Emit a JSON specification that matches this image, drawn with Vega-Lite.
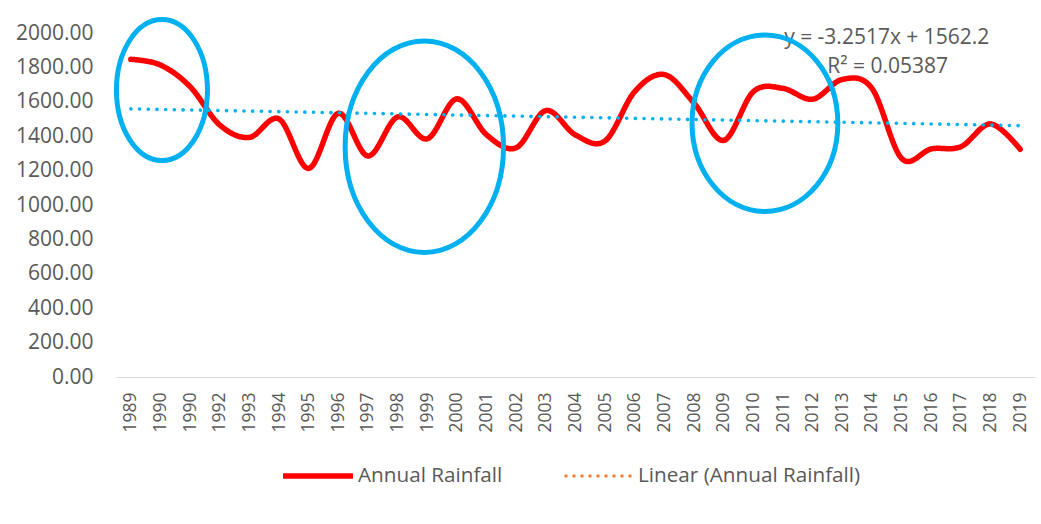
{
  "$schema": "https://vega.github.io/schema/vega-lite/v6.json",
  "width": 919,
  "height": 344,
  "autosize": {"type": "none"},
  "padding": {"left": 116, "top": 33, "right": 6, "bottom": 147},
  "background": "white",
  "config": {
    "view": {"stroke": null},
    "font": "Open Sans",
    "legend": {
      "orient": "none",
      "legendX": 164,
      "legendY": 405,
      "direction": "horizontal",
      "title": null,
      "padding": 0,
      "labelFont": "Open Sans",
      "labelFontSize": 20.7,
      "labelColor": "#595959",
      "labelLimit": 0,
      "symbolType": "stroke",
      "symbolSize": 4900,
      "labelOffset": 2,
      "columnPadding": 55
    }
  },
  "datasets": {
    "rainfall": [
      {"year": 1989, "rainfall": 1847, "series": "Annual Rainfall"},
      {"year": 1990, "rainfall": 1814, "series": "Annual Rainfall"},
      {"year": 1991, "rainfall": 1688, "series": "Annual Rainfall"},
      {"year": 1992, "rainfall": 1465, "series": "Annual Rainfall"},
      {"year": 1993, "rainfall": 1393, "series": "Annual Rainfall"},
      {"year": 1994, "rainfall": 1500, "series": "Annual Rainfall"},
      {"year": 1995, "rainfall": 1213, "series": "Annual Rainfall"},
      {"year": 1996, "rainfall": 1533, "series": "Annual Rainfall"},
      {"year": 1997, "rainfall": 1285, "series": "Annual Rainfall"},
      {"year": 1998, "rainfall": 1512, "series": "Annual Rainfall"},
      {"year": 1999, "rainfall": 1385, "series": "Annual Rainfall"},
      {"year": 2000, "rainfall": 1617, "series": "Annual Rainfall"},
      {"year": 2001, "rainfall": 1408, "series": "Annual Rainfall"},
      {"year": 2002, "rainfall": 1333, "series": "Annual Rainfall"},
      {"year": 2003, "rainfall": 1549, "series": "Annual Rainfall"},
      {"year": 2004, "rainfall": 1407, "series": "Annual Rainfall"},
      {"year": 2005, "rainfall": 1373, "series": "Annual Rainfall"},
      {"year": 2006, "rainfall": 1660, "series": "Annual Rainfall"},
      {"year": 2007, "rainfall": 1758, "series": "Annual Rainfall"},
      {"year": 2008, "rainfall": 1592, "series": "Annual Rainfall"},
      {"year": 2009, "rainfall": 1376, "series": "Annual Rainfall"},
      {"year": 2010, "rainfall": 1659, "series": "Annual Rainfall"},
      {"year": 2011, "rainfall": 1678, "series": "Annual Rainfall"},
      {"year": 2012, "rainfall": 1615, "series": "Annual Rainfall"},
      {"year": 2013, "rainfall": 1730, "series": "Annual Rainfall"},
      {"year": 2014, "rainfall": 1678, "series": "Annual Rainfall"},
      {"year": 2015, "rainfall": 1271, "series": "Annual Rainfall"},
      {"year": 2016, "rainfall": 1326, "series": "Annual Rainfall"},
      {"year": 2017, "rainfall": 1339, "series": "Annual Rainfall"},
      {"year": 2018, "rainfall": 1471, "series": "Annual Rainfall"},
      {"year": 2019, "rainfall": 1324, "series": "Annual Rainfall"}
    ],
    "trend": [
      {"year": 1989, "rainfall": 1558.95},
      {"year": 2019, "rainfall": 1461.40}
    ],
    "zones": [
      {"year": 1990.05, "rainfall": 1668, "zone": "early"},
      {"year": 1998.9, "rainfall": 1339, "zone": "late 1990s"},
      {"year": 2010.39, "rainfall": 1475, "zone": "2010s"}
    ],
    "notes": [
      {"year": 2014.5, "rainfall": 1971, "note": "y = -3.2517x + 1562.2"},
      {"year": 2014.53, "rainfall": 1802, "note": "R² = 0.05387"}
    ]
  },
  "encoding": {
    "x": {
      "field": "year",
      "type": "quantitative",
      "scale": {"domain": [1988.5, 2019.5], "nice": false, "zero": false},
      "axis": {
        "title": null,
        "values": [1989, 1990, 1991, 1992, 1993, 1994, 1995, 1996, 1997, 1998, 1999, 2000, 2001, 2002, 2003, 2004, 2005, 2006, 2007, 2008, 2009, 2010, 2011, 2012, 2013, 2014, 2015, 2016, 2017, 2018, 2019],
        "format": "d",
        "labelExpr": "datum.value === 1991 ? '1990' : datum.label",
        "labelAngle": -90,
        "labelFont": "Open Sans",
        "labelFontSize": 17.5,
        "labelColor": "#595959",
        "labelPadding": 15,
        "labelOverlap": false,
        "ticks": false,
        "grid": false,
        "domainColor": "#D9D9D9",
        "domainWidth": 1.2
      }
    },
    "y": {
      "field": "rainfall",
      "type": "quantitative",
      "scale": {"domain": [0, 2000], "nice": false},
      "axis": {
        "title": null,
        "values": [0, 200, 400, 600, 800, 1000, 1200, 1400, 1600, 1800, 2000],
        "format": ".2f",
        "labelFont": "Open Sans",
        "labelFontSize": 21,
        "labelColor": "#595959",
        "labelPadding": 23,
        "ticks": false,
        "domain": false,
        "grid": false
      }
    }
  },
  "layer": [
    {
      "data": {"name": "notes"},
      "mark": {"type": "text", "font": "Open Sans", "fontSize": 21, "color": "#595959", "align": "center", "baseline": "middle"},
      "encoding": {"text": {"field": "note"}}
    },
    {
      "data": {"name": "rainfall"},
      "mark": {"type": "line", "interpolate": "cardinal", "strokeCap": "round", "strokeJoin": "round"},
      "encoding": {
        "color": {
          "field": "series",
          "type": "nominal",
          "scale": {"domain": ["Annual Rainfall", "Linear (Annual Rainfall)"], "range": ["#FF0000", "#ED7D31"]},
          "legend": {
            "orient": "none",
            "legendX": 164,
            "legendY": 405,
            "direction": "horizontal",
            "title": null,
            "labelLimit": 0,
            "symbolType": "stroke",
            "symbolSize": 4900,
            "labelOffset": 2,
            "columnPadding": 55
          }
        },
        "strokeDash": {
          "field": "series",
          "type": "nominal",
          "scale": {"domain": ["Annual Rainfall", "Linear (Annual Rainfall)"], "range": [[1, 0], [3, 5]]}
        },
        "strokeWidth": {
          "field": "series",
          "type": "nominal",
          "scale": {"domain": ["Annual Rainfall", "Linear (Annual Rainfall)"], "range": [5.5, 3]}
        }
      }
    },
    {
      "data": {"name": "trend"},
      "mark": {"type": "line", "color": "#00B0F0", "strokeWidth": 3.6, "strokeCap": "round", "strokeDash": [0.1, 8.6]}
    },
    {
      "data": {"name": "zones"},
      "mark": {"type": "point", "filled": false, "size": 4, "stroke": "#00B0F0", "strokeWidth": 5, "opacity": 1},
      "encoding": {
        "shape": {
          "field": "zone",
          "type": "nominal",
          "legend": null,
          "scale": {
            "domain": ["early", "late 1990s", "2010s"],
            "range": [
              "M45.5,0C45.5,38.94,25.13,70.5,0,70.5C-25.13,70.5,-45.5,38.94,-45.5,0C-45.5,-38.94,-25.13,-70.5,0,-70.5C25.13,-70.5,45.5,-38.94,45.5,0Z",
              "M79.2,0C79.2,58.43,43.74,105.8,0,105.8C-43.74,105.8,-79.2,58.43,-79.2,0C-79.2,-58.43,-43.74,-105.8,0,-105.8C43.74,-105.8,79.2,-58.43,79.2,0Z",
              "M72.9,0C72.9,48.71,40.26,88.2,0,88.2C-40.26,88.2,-72.9,48.71,-72.9,0C-72.9,-48.71,-40.26,-88.2,0,-88.2C40.26,-88.2,72.9,-48.71,72.9,0Z"
            ]
          }
        }
      }
    }
  ]
}
